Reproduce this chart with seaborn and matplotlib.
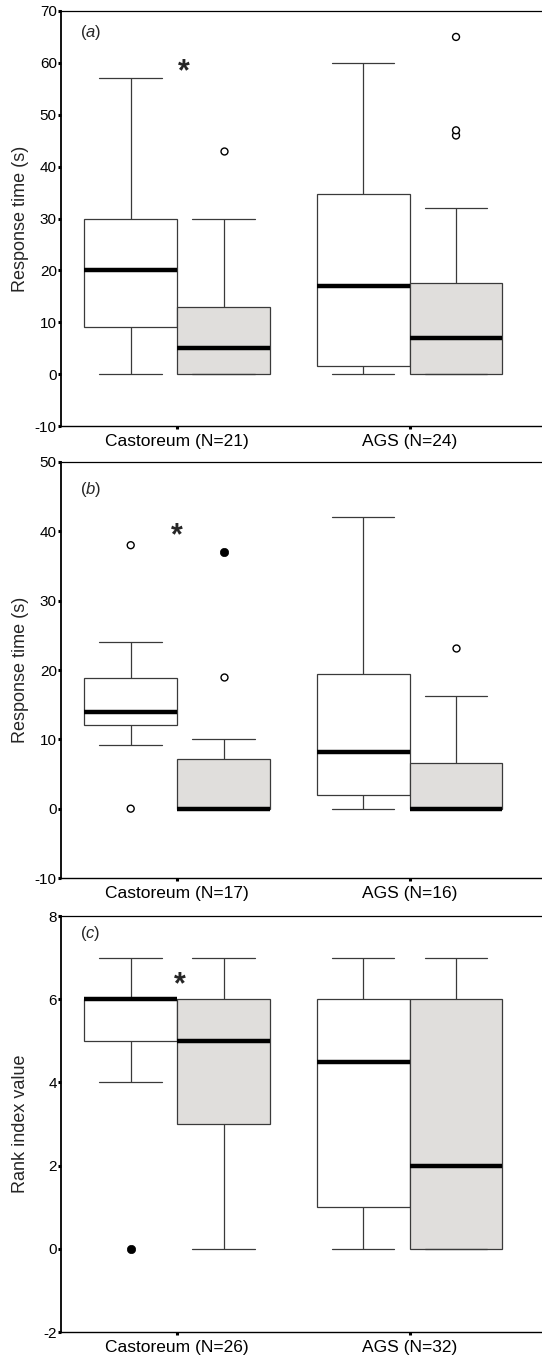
import matplotlib
matplotlib.use("Agg")
import matplotlib.pyplot as plt
import numpy as np
import pandas as pd
import seaborn as sns

sns.set_style("ticks")
plt.rcParams["font.family"] = ["Liberation Sans", "DejaVu Sans"]
plt.rcParams["mathtext.fontset"] = "custom"
plt.rcParams["mathtext.rm"] = "Liberation Sans"
plt.rcParams["mathtext.it"] = "Liberation Sans:italic"
plt.rcParams["axes.unicode_minus"] = False

# ---------------- data ----------------
categories = ["Castoreum", "AGS"]
groups = ["Control", "Scent"]          # white box, grey box
box_sites = ["Castoreum", "Castoreum", "AGS", "AGS"]
box_groups = ["Control", "Scent", "Control", "Scent"]

# panel (a) response time (s)
a_ticklabels = ["Castoreum (N=21)", "AGS (N=24)"]
a_low = [0, 0, 0, 0]
a_q1 = [9, 0, 1.5, 0]
a_med = [20, 5, 17, 7]
a_q3 = [30, 13, 34.8, 17.5]
a_high = [57, 30, 60, 32]
a_out_site = ["Castoreum", "AGS", "AGS", "AGS"]
a_out_group = ["Scent", "Scent", "Scent", "Scent"]
a_out_value = [43, 46, 47, 65]
a_ext_site = []
a_ext_group = []
a_ext_value = []

# panel (b) response time (s)
b_ticklabels = ["Castoreum (N=17)", "AGS (N=16)"]
b_low = [9.2, 0, 0, 0]
b_q1 = [12, 0, 2, 0]
b_med = [14, 0, 8.2, 0]
b_q3 = [18.8, 7.2, 19.4, 6.6]
b_high = [24, 10, 42, 16.2]
b_out_site = ["Castoreum", "Castoreum", "Castoreum", "AGS"]
b_out_group = ["Control", "Control", "Scent", "Scent"]
b_out_value = [38, 0, 19, 23.2]
b_ext_site = ["Castoreum"]
b_ext_group = ["Scent"]
b_ext_value = [37]

# panel (c) rank index value
c_ticklabels = ["Castoreum (N=26)", "AGS (N=32)"]
c_low = [4, 0, 0, 0]
c_q1 = [5, 3, 1, 0]
c_med = [6, 5, 4.5, 2]
c_q3 = [6, 6, 6, 6]
c_high = [7, 7, 7, 7]
c_out_site = []
c_out_group = []
c_out_value = []
c_ext_site = ["Castoreum"]
c_ext_group = ["Control"]
c_ext_value = [0]

# ---------------- styling ----------------
WHITE = "#ffffff"
GREY = "#e1dedb"
EDGE = "#3a3a3a"
REP = 50   # each read summary value is repeated so that seaborn's quartiles reproduce it exactly


def sample_frame(low, q1, med, q3, high, out_site, out_group, out_value,
                 ext_site, ext_group, ext_value):
    rows = []
    fl_site = list(out_site) + list(ext_site)
    fl_group = list(out_group) + list(ext_group)
    fl_value = list(out_value) + list(ext_value)
    for s, g, lo, a, m, b, hi in zip(box_sites, box_groups, low, q1, med, q3, high):
        vals = [lo] + [a] * REP + [m] * REP + [b] * REP + [hi]
        vals += [v for ss, gg, v in zip(fl_site, fl_group, fl_value) if ss == s and gg == g]
        for v in vals:
            rows.append({"site": s, "group": g, "value": v})
    return pd.DataFrame(rows)


def draw_panel(ax, df, out_site, out_group, out_value, ext_site, ext_group, ext_value,
               ticklabels, ylabel, yticks, tag, tag_y, star_xy):
    kw = dict(data=df, x="site", y="value", hue="group", order=categories,
              hue_order=groups, palette={"Control": WHITE, "Scent": GREY},
              width=0.8, dodge=True, linecolor=EDGE, linewidth=0.9,
              showfliers=False, whis=1.5,
              medianprops=dict(color="black", linewidth=3.2, solid_capstyle="butt"),
              legend=False, ax=ax)
    try:
        sns.boxplot(capwidths=0.27, **kw)
    except Exception:
        sns.boxplot(**kw)

    if out_value:
        odf = pd.DataFrame({"site": out_site, "group": out_group, "value": out_value})
        sns.stripplot(data=odf, x="site", y="value", hue="group", order=categories,
                      hue_order=groups, dodge=True, jitter=False,
                      palette={"Control": "white", "Scent": "white"}, marker="o",
                      size=5, edgecolor="black", linewidth=1.0, legend=False,
                      ax=ax, zorder=5)
    if ext_value:
        edf = pd.DataFrame({"site": ext_site, "group": ext_group, "value": ext_value})
        sns.stripplot(data=edf, x="site", y="value", hue="group", order=categories,
                      hue_order=groups, dodge=True, jitter=False,
                      palette={"Control": "black", "Scent": "black"}, marker="o",
                      size=6, edgecolor="black", linewidth=0.5, legend=False,
                      ax=ax, zorder=5)

    ax.set_xlim(-0.5, 1.57)
    ax.set_ylim(yticks[0], yticks[-1])
    ax.set_yticks(yticks)
    ax.set_xticks([0, 1])
    ax.set_xticklabels(ticklabels, fontsize=12.5)
    ax.set_xlabel("")
    ax.set_ylabel(ylabel, fontsize=13)
    ax.yaxis.set_label_coords(-0.066, 0.5)
    ax.spines["right"].set_visible(False)
    ax.spines["top"].set_visible(True)
    ax.spines["left"].set_linewidth(1.3)
    ax.spines["bottom"].set_linewidth(1.0)
    ax.spines["top"].set_linewidth(0.9)
    for sp in ax.spines.values():
        sp.set_color("black")
    ax.tick_params(axis="y", direction="out", length=2.2, width=2.2, pad=0.8,
                   labelsize=11, colors="black")
    ax.tick_params(axis="x", direction="out", length=2.4, width=2.2, pad=3.5,
                   labelsize=12.5, colors="black")
    ax.text(0.04, tag_y, tag, transform=ax.transAxes, fontsize=12,
            ha="left", va="center")
    ax.annotate("*", xy=star_xy, xytext=(0, -12.5), textcoords="offset points",
                ha="center", va="baseline", fontsize=22, fontweight="bold")


fig = plt.figure(figsize=(5.42, 13.57), dpi=100)
W, H = 542, 1357
left = 61 / W
ax_a = fig.add_axes([left, 1 - 426 / H, 1 - left, (426 - 11) / H])
ax_b = fig.add_axes([left, 1 - 878 / H, 1 - left, (878 - 462) / H])
ax_c = fig.add_axes([left, 1 - 1332 / H, 1 - left, (1332 - 916) / H])

df_a = sample_frame(a_low, a_q1, a_med, a_q3, a_high, a_out_site, a_out_group,
                    a_out_value, a_ext_site, a_ext_group, a_ext_value)
draw_panel(ax_a, df_a, a_out_site, a_out_group, a_out_value, a_ext_site, a_ext_group,
           a_ext_value, a_ticklabels, "Response time (s)", list(range(-10, 71, 10)),
           r"($\mathit{a}$)", 0.949, (0.03, 60))

df_b = sample_frame(b_low, b_q1, b_med, b_q3, b_high, b_out_site, b_out_group,
                    b_out_value, b_ext_site, b_ext_group, b_ext_value)
draw_panel(ax_b, df_b, b_out_site, b_out_group, b_out_value, b_ext_site, b_ext_group,
           b_ext_value, b_ticklabels, "Response time (s)", list(range(-10, 51, 10)),
           r"($\mathit{b}$)", 0.933, (0.0, 40.7))

df_c = sample_frame(c_low, c_q1, c_med, c_q3, c_high, c_out_site, c_out_group,
                    c_out_value, c_ext_site, c_ext_group, c_ext_value)
draw_panel(ax_c, df_c, c_out_site, c_out_group, c_out_value, c_ext_site, c_ext_group,
           c_ext_value, c_ticklabels, "Rank index value", list(range(-2, 9, 2)),
           r"($\mathit{c}$)", 0.959, (0.01, 6.55))

fig.savefig("out.png", dpi=100)
